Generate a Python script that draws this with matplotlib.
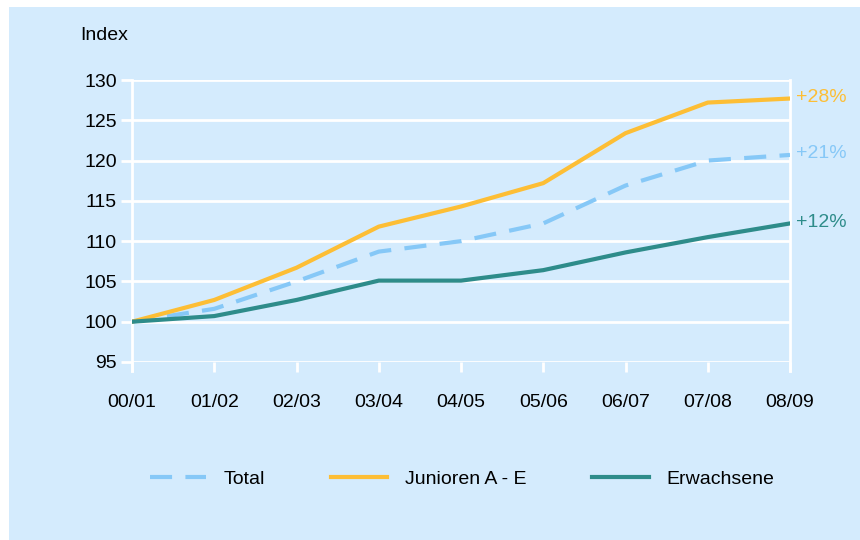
import matplotlib.pyplot as plt
from matplotlib.patches import Rectangle

plt.rcParams['font.family'] = ['Liberation Sans', 'DejaVu Sans']

# Saisons und Indexwerte (00/01 = 100)
seasons = ["00/01", "01/02", "02/03", "03/04", "04/05", "05/06", "06/07", "07/08", "08/09"]
total = [100, 101.6, 105.0, 108.7, 110.0, 112.2, 116.9, 120.0, 120.7]
junioren = [100, 102.7, 106.7, 111.8, 114.3, 117.2, 123.4, 127.2, 127.7]
erwachsene = [100, 100.7, 102.7, 105.1, 105.1, 106.4, 108.6, 110.5, 112.2]
end_labels = ["+21%", "+28%", "+12%"]

bg = '#D4EBFD'
c_total = '#86C8F7'
c_jun = '#FDBE35'
c_erw = '#2E8C8A'
fs = 14

fig = plt.figure(figsize=(8.6, 5.4), dpi=100)
fig.patches.append(Rectangle((9 / 860, 0), 1, 1 - 7 / 540, transform=fig.transFigure,
                             facecolor=bg, edgecolor='none', zorder=-5))
ax = fig.add_axes([132 / 860, 1 - 362 / 540, 658 / 860, 282 / 540])
ax.set_facecolor(bg)

x = list(range(len(seasons)))
ax.plot(x, total, color=c_total, lw=3, dashes=(5.3, 3.2), label="Total", zorder=3)
ax.plot(x, junioren, color=c_jun, lw=3, label="Junioren A - E", zorder=3)
ax.plot(x, erwachsene, color=c_erw, lw=3, label="Erwachsene", zorder=3)

for vals, lab, col in zip([total, junioren, erwachsene], end_labels, [c_total, c_jun, c_erw]):
    ax.annotate(lab, (x[-1], vals[-1]), xytext=(4, 1), textcoords='offset points',
                color=col, fontsize=fs, va='center', ha='left', annotation_clip=False)

ax.set_xlim(0, len(seasons) - 1)
ax.set_ylim(95, 130)
ax.set_yticks(range(95, 131, 5))
ax.set_xticks(x)
ax.set_xticklabels(seasons)
ax.grid(axis='y', color='white', lw=2, zorder=1)
ax.set_axisbelow(True)
for s in ['top', 'bottom']:
    ax.spines[s].set_visible(False)
for s in ['left', 'right']:
    ax.spines[s].set_color('white')
    ax.spines[s].set_linewidth(2)
    ax.spines[s].set_bounds(93.9, 130)
ax.tick_params(axis='both', colors='white', width=2, labelsize=fs, labelcolor='black')
ax.tick_params(axis='y', length=8, pad=3)
ax.tick_params(axis='x', length=7, pad=16)

fig.text(80 / 860, 1 - 36 / 540, "Index", fontsize=fs, va='center', ha='left')

fig.legend(loc='center', bbox_to_anchor=(0.537, 1 - 479 / 540), ncol=3, frameon=False,
           fontsize=fs, handlelength=2.9, handletextpad=0.9, columnspacing=3.4)

fig.savefig("out.png", dpi=100, facecolor='white')
